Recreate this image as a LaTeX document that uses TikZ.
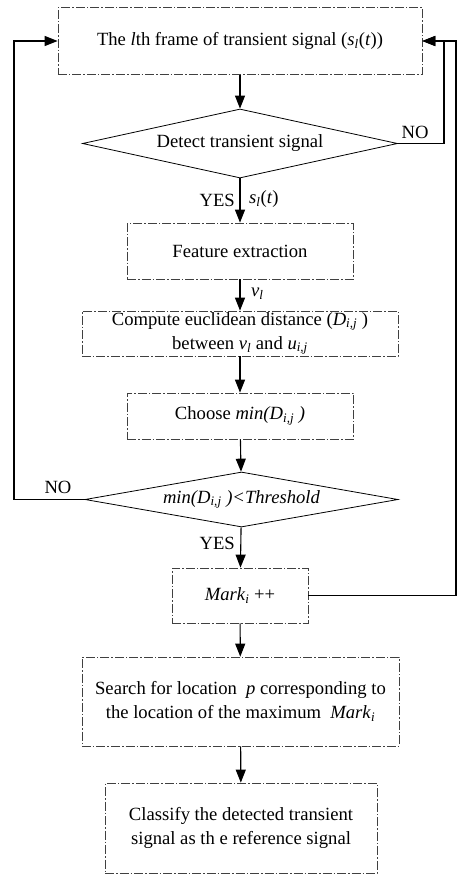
\documentclass[tikz,border=0pt]{standalone}
\usepackage{fontspec}
\setmainfont{Liberation Serif}
\usetikzlibrary{shapes.geometric,arrows.meta}
\newcommand{\isub}[2]{\textit{#1}\textsubscript{\textit{#2}}}
\begin{document}
\begin{tikzpicture}[x=1bp,y=-1bp,
  font=\fontsize{18.7}{24}\selectfont,
  procbox/.style={draw=black!75, line width=0.7bp,
    dash pattern=on 9bp off 2bp on 1.5bp off 2bp,
    inner sep=0pt, align=center},
  decision/.style={draw=black, line width=0.8bp, diamond, inner sep=0pt},
  flow/.style={draw=black, line width=1.1bp,
    -{Triangle[length=13bp,width=10bp]}},
  lbl/.style={inner sep=1bp}]
\useasboundingbox (0,0) rectangle (469,875);

% process steps
\node[procbox, minimum width=364bp, minimum height=67bp] (frame) at (240,41)
  {The \textit{l}th frame of transient signal (\isub{s}{l}(\textit{t}))};
\node[decision, minimum width=315bp, minimum height=69bp, aspect=4.56] (detect) at (240,143.5)
  {Detect transient signal};
\node[procbox, minimum width=226bp, minimum height=56bp] (feat) at (240,251)
  {Feature extraction};
\node[procbox, minimum width=316bp, minimum height=45bp] (dist) at (240,333.5)
  {Compute euclidean distance (\isub{D}{i,j} )\\between \isub{v}{l} and \isub{u}{i,j}};
\node[procbox, minimum width=226bp, minimum height=46bp] (choose) at (240,416)
  {Choose \textit{min(D}\textsubscript{\textit{i,j}}\textit{ )}};
\node[decision, minimum width=313bp, minimum height=55bp, aspect=5.7] (thr) at (241.5,499.5)
  {\textit{min(D}\textsubscript{\textit{i,j}}\textit{ )<Threshold}};
\node[procbox, minimum width=136bp, minimum height=55bp] (mark) at (240,595.5)
  {\isub{Mark}{i} ++};
\node[procbox, minimum width=317bp, minimum height=89bp] (search) at (240.5,701.5)
  {Search for location\enspace\textit{p} corresponding to\\the location of the maximum\enspace\isub{Mark}{i}};
\node[procbox, minimum width=272bp, minimum height=90bp] (classify) at (241,828)
  {Classify the detected transient\\signal as th e reference signal};

% loop corners
\coordinate (rno) at (444,143.5);
\coordinate (rmk) at (456,595.5);
\coordinate (lno) at (14,499.5);

% main flow
\draw[flow] (frame) -- (detect);
\draw[flow] (detect) -- (feat);
\draw[flow] (feat) -- (dist);
\draw[flow] (dist) -- (choose);
\draw[flow] (choose) -- (thr);
\draw[flow] (thr) -- (mark);
\draw[flow] (mark) -- (search);
\draw[flow] (search) -- (classify);

% feedback loops
\draw[flow] (detect.east) -- (rno) -- (rno |- frame.east) -- (frame.east);
\draw[flow] (mark.east) -- (rmk) -- (rmk |- frame.east) -- (frame.east);
\draw[flow] (thr.west) -- (lno) -- (lno |- frame.west) -- (frame.west);

% labels
\node[lbl, anchor=east] (yes1) at (236,200) {YES};
\node[lbl, anchor=west] (sig) at (248,199) {\isub{s}{l}(\textit{t})};
\node[lbl, anchor=west] (vl) at (250,294) {\isub{v}{l}};
\node[lbl] (no1) at (415,132) {NO};
\node[lbl] (no2) at (58,487) {NO};
\node[lbl, anchor=east] (yes2) at (236,543) {YES};
\end{tikzpicture}
\end{document}
